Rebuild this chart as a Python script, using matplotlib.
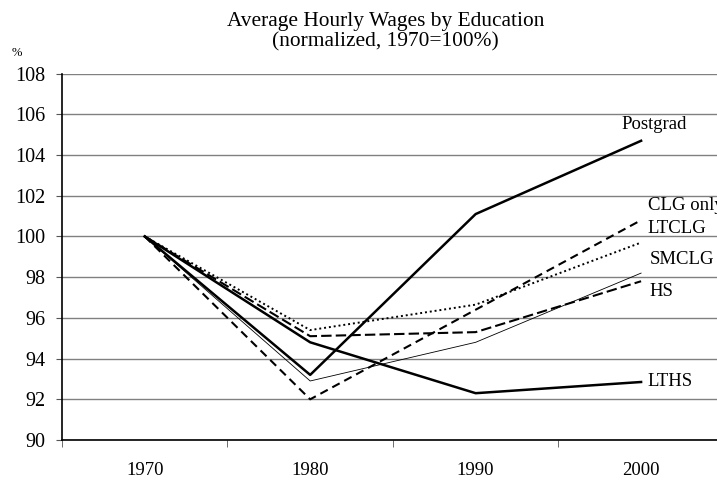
import matplotlib
matplotlib.use('Agg')
import matplotlib.pyplot as plt
from matplotlib.ticker import FixedLocator

plt.rcParams['font.family'] = ['Liberation Serif', 'DejaVu Serif']

years = ['1970', '1980', '1990', '2000']
postgrad = [100, 93.2, 101.1, 104.7]
clg_only = [100, 92.0, 96.4, 100.8]
smclg = [100, 95.4, 96.65, 99.7]
ltclg = [100, 92.9, 94.8, 98.2]
hs = [100, 95.1, 95.3, 97.8]
lths = [100, 94.8, 92.3, 92.85]

x = range(len(years))

fig = plt.figure(figsize=(7.17, 4.83), dpi=100)
ax = fig.add_axes([0.0865, 0.089, 0.923, 0.7586])

ax.plot(x, postgrad, color='black', lw=1.8, linestyle='solid')
ax.plot(x, lths, color='black', lw=1.8, linestyle='solid')
ax.plot(x, clg_only, color='black', lw=1.5, linestyle=(0, (4, 2.5)))
ax.plot(x, hs, color='black', lw=1.5, linestyle=(0, (5, 2)))
ax.plot(x, smclg, color='black', lw=1.4, linestyle=(0, (1, 1.5)))
ax.plot(x, ltclg, color='black', lw=0.6, linestyle='solid')

# series labels at the right end
lab_fs = 13.5
ax.text(2.88, 105.5, 'Postgrad', fontsize=lab_fs, va='center')
ax.text(3.04, 101.5, 'CLG only', fontsize=lab_fs, va='center', clip_on=False)
ax.text(3.04, 100.4, 'LTCLG', fontsize=lab_fs, va='center')
ax.text(3.05, 98.85, 'SMCLG', fontsize=lab_fs, va='center')
ax.text(3.05, 97.3, 'HS', fontsize=lab_fs, va='center')
ax.text(3.04, 92.86, 'LTHS', fontsize=lab_fs, va='center')

ax.set_xlim(-0.5, 3.5)
ax.set_ylim(90, 108)
ax.set_yticks(range(90, 109, 2))
ax.tick_params(axis='y', labelsize=14.5, length=4.6, color='#555555', pad=7.5)
ax.set_xticks(list(x))
ax.set_xticklabels(years, fontsize=13.5)
ax.tick_params(axis='x', which='major', length=0, pad=16)
ax.xaxis.set_minor_locator(FixedLocator([-0.5, 0.5, 1.5, 2.5, 3.5]))
ax.tick_params(axis='x', which='minor', length=5, color='#555555')

ax.grid(axis='y', color='#808080', lw=1)
ax.set_axisbelow(True)
for s in ['top', 'right']:
    ax.spines[s].set_visible(False)
ax.spines['left'].set_color('black')
ax.spines['bottom'].set_color('black')
ax.spines['left'].set_linewidth(1.2)
ax.spines['bottom'].set_linewidth(1.2)

fig.text(0.538, 0.935, 'Average Hourly Wages by Education\n(normalized, 1970=100%)',
         ha='center', va='center', fontsize=15.4, linespacing=1.08)
fig.text(0.016, 0.885, '%', fontsize=9)

fig.savefig('out.png', dpi=100)
